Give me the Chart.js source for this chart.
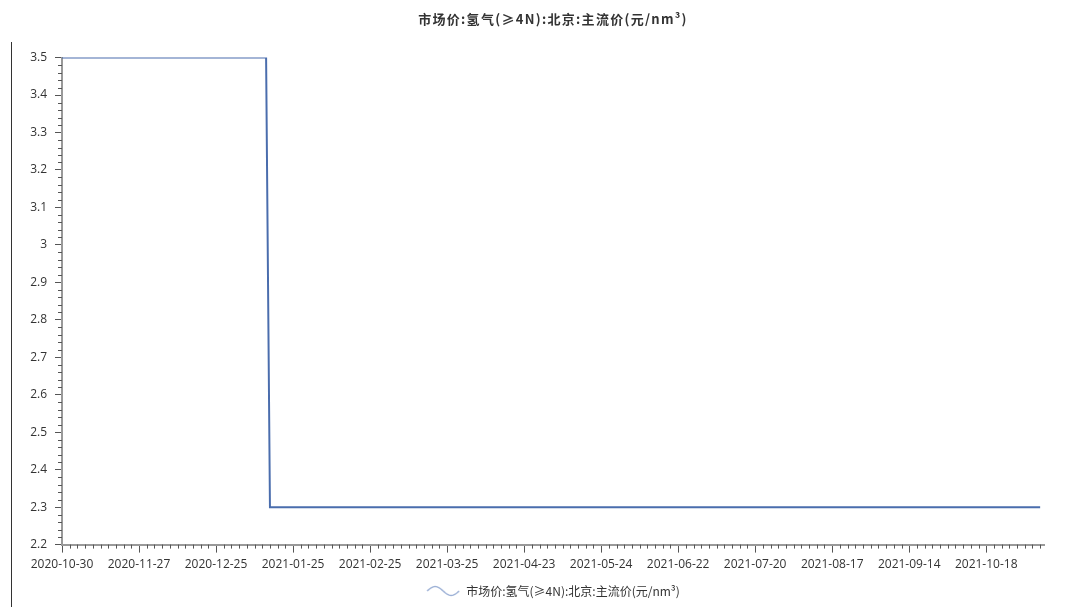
<!DOCTYPE html>
<html>
<head>
<meta charset="utf-8">
<script src="https://cdn.jsdelivr.net/npm/chart.js@4.4.1/dist/chart.umd.min.js"></script>
<style>
  html, body { margin: 0; padding: 0; background: #fff; }
  #wrap { position: relative; width: 1075px; height: 607px; }
  #edge { position: absolute; left: 11px; top: 42px; width: 1px; height: 565px; background: #333; }
  canvas { position: absolute; left: 0; top: 0; }
</style>
</head>
<body>
<div id="wrap">
  <div id="edge"></div>
  <canvas id="c" width="1075" height="607"></canvas>
</div>
<script>
// Hydrogen (>=4N) mainstream price, Beijing, yuan/nm3 — trading-day series
const seriesName = '市场价:氢气(≥4N):北京:主流价(元/nm³)';
const tickLabels = [
  '2020-10-30', '2020-11-27', '2020-12-25', '2021-01-25', '2021-02-25',
  '2021-03-25', '2021-04-23', '2021-05-24', '2021-06-22', '2021-07-20',
  '2021-08-17', '2021-09-14', '2021-10-18'
];
const daysPerLabel = 20;          // trading days between labelled dates
const lastDay = 255;              // axis end, in trading days from the first date
// Price changes: trading-day index where each level holds
const dayIndex = [0, 53, 54, 254];
const priceValues = [3.5, 3.5, 2.3, 2.3];
const yMin = 2.2, yMax = 3.5, yStep = 0.1;

const points = dayIndex.map((d, i) => ({ x: d, y: priceValues[i] }));

// Wavy legend marker
function waveIcon() {
  const cv = document.createElement('canvas');
  cv.width = 34; cv.height = 14;
  const g = cv.getContext('2d');
  g.strokeStyle = '#9db1d6';
  g.lineWidth = 1.4;
  g.beginPath();
  for (let i = 0; i <= 32; i++) {
    const px = 1 + i;
    const py = 7 - 4.5 * Math.sin((i / 32) * Math.PI * 2);
    if (i === 0) g.moveTo(px, py); else g.lineTo(px, py);
  }
  g.stroke();
  return cv;
}
const legendIcon = waveIcon();

// Minor tick marks along both axes
const minorTicks = {
  id: 'minorTicks',
  afterDraw(chart) {
    const { ctx } = chart;
    const xs = chart.scales.x, ys = chart.scales.y;
    ctx.save();
    ctx.strokeStyle = '#555';
    ctx.lineWidth = 1;
    ctx.beginPath();
    for (let d = 0; d <= lastDay; d += 2) {
      if (d % daysPerLabel === 0) continue;
      const px = Math.round(xs.getPixelForValue(d)) + 0.5;
      ctx.moveTo(px, ys.bottom);
      ctx.lineTo(px, ys.bottom + 4);
    }
    const steps = Math.round((yMax - yMin) / (yStep / 5));
    for (let k = 0; k <= steps; k++) {
      if (k % 5 === 0) continue;
      const v = yMin + k * yStep / 5;
      const py = Math.round(ys.getPixelForValue(v)) + 0.5;
      ctx.moveTo(xs.left - 4, py);
      ctx.lineTo(xs.left, py);
    }
    ctx.stroke();
    ctx.restore();
  }
};

// Letter spacing for the title and axis labels
function spaced(box, spacing) {
  if (!box || box.__spaced) return;
  const orig = box.draw.bind(box);
  box.draw = function (area) {
    const ctx = this.ctx;
    const prev = ctx.letterSpacing;
    ctx.letterSpacing = spacing;
    orig(area);
    ctx.letterSpacing = prev;
  };
  box.__spaced = true;
}
const letterSpacing = {
  id: 'letterSpacing',
  beforeDraw(chart) {
    spaced(chart.titleBlock, '1.3px');
    spaced(chart.scales.x, '0.5px');
    spaced(chart.scales.y, '0.4px');
  }
};

const tickFont = { family: '"Open Sans", "Noto Sans", sans-serif', size: 12 };

new Chart(document.getElementById('c'), {
  type: 'line',
  data: {
    datasets: [{
      label: seriesName,
      data: points,
      borderColor: '#4a6dad',
      backgroundColor: '#4a6dad',
      borderWidth: 2,
      pointRadius: 0,
      tension: 0,
      fill: false
    }]
  },
  options: {
    responsive: false,
    animation: false,
    layout: { padding: { left: 0, right: 31, top: 0, bottom: 0 } },
    plugins: {
      title: {
        display: true,
        text: seriesName,
        fullSize: false,
        color: '#333',
        font: { family: '"Noto Sans CJK SC", sans-serif', size: 13, weight: 'bold' },
        padding: { top: 11, bottom: 31 }
      },
      legend: {
        position: 'bottom',
        fullSize: false,
        labels: {
          usePointStyle: true,
          pointStyleWidth: 34,
          boxHeight: 12,
          color: '#333',
          padding: 8,
          font: { family: '"Noto Sans CJK SC", sans-serif', size: 12 },
          generateLabels(chart) {
            return chart.data.datasets.map((ds, i) => ({
              text: ds.label,
              pointStyle: legendIcon,
              fillStyle: 'transparent',
              strokeStyle: 'transparent',
              lineWidth: 0,
              fontColor: '#333',
              datasetIndex: i
            }));
          }
        }
      },
      tooltip: { enabled: false }
    },
    scales: {
      x: {
        type: 'linear',
        min: 0,
        max: lastDay,
        grid: { drawOnChartArea: false, drawTicks: true, tickLength: 8, color: '#555' },
        border: { display: true, color: '#999', width: 2 },
        ticks: {
          stepSize: daysPerLabel,
          includeBounds: false,
          autoSkip: false,
          maxRotation: 0,
          color: '#333',
          font: tickFont,
          padding: 5,
          callback: (v) => tickLabels[Math.round(v / daysPerLabel)] ?? ''
        }
      },
      y: {
        min: yMin,
        max: yMax,
        grid: { drawOnChartArea: false, drawTicks: true, tickLength: 7, color: '#555' },
        border: { display: true, color: '#999', width: 2 },
        ticks: {
          stepSize: yStep,
          color: '#333',
          font: tickFont,
          padding: 8,
          callback: (v) => String(+v.toFixed(1))
        },
        afterFit(scale) { scale.width = 62; }
      }
    }
  },
  plugins: [minorTicks, letterSpacing]
});
</script>
</body>
</html>
